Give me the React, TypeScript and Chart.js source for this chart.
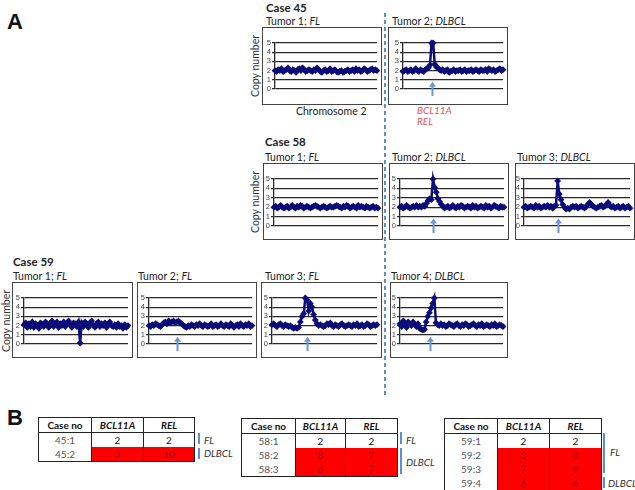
import React, { useEffect, useRef } from "react";
import { Chart, registerables } from "chart.js";
Chart.register(...registerables);

// ---- copy-number series (chromosome 2), one value per probe window ----
const c45t1 = [
  2.0,1.9,2.1,2.0,2.2,1.9,2.0,2.1,2.3,2.0,1.9,2.1,2.0,1.8,2.1,2.2,
  2.0,2.3,2.1,1.9,2.0,2.1,2.0,1.9,2.1,2.0,2.3,2.1,1.9,1.8,2.0,2.1,
  1.9,2.0,2.2,1.9,2.0,2.1,1.9,1.8,1.9,2.0,1.8,1.9,2.0,2.1,1.9,2.0,
  2.1,1.9,2.2,2.0,2.1,1.9,2.0,2.2,2.1,1.9,2.0,2.1,2.2,2.0,2.1,2.0];
const c45t2 = [
  1.9,2.0,2.1,1.9,2.0,2.1,1.9,2.0,2.2,2.0,1.9,2.1,2.0,1.9,2.1,2.2,
  2.3,2.6,5.0,5.0,2.7,2.4,2.3,2.1,2.0,2.1,1.9,2.0,2.1,1.8,1.9,2.0,
  2.1,1.9,2.0,2.0,2.1,1.9,2.0,2.1,1.9,2.0,2.0,2.1,1.9,2.0,2.1,2.0,
  1.9,2.1,2.0,2.0,2.1,1.9,2.2,2.1,2.0,2.1,1.9,2.0,2.1,2.2,2.0,2.1];
const c58t1 = [
  2.0,2.1,1.9,2.0,2.2,2.0,1.9,2.0,2.1,1.9,2.0,2.2,2.0,1.9,2.1,2.0,
  2.2,2.1,1.9,2.0,2.1,2.0,1.9,2.0,2.1,2.2,2.1,2.0,1.9,2.0,2.1,2.0,
  1.9,2.0,2.1,2.0,2.0,2.1,2.2,2.1,2.0,1.9,2.1,2.0,2.2,2.1,1.9,2.0,
  2.1,2.0,1.9,2.2,2.0,2.1,2.0,1.9,2.1,2.0,1.9,2.0,2.1,1.9,2.0,1.9];
const c58t2 = [
  2.0,2.1,1.9,2.0,2.2,2.0,1.9,2.0,2.1,2.0,2.2,2.0,2.1,2.0,2.2,2.1,
  2.4,2.7,2.9,2.8,5.0,4.1,3.6,2.9,2.6,2.3,2.1,1.9,2.0,2.1,1.9,2.0,
  2.2,2.0,1.9,2.1,2.0,2.2,2.1,1.9,2.0,2.1,2.0,1.9,2.2,2.0,2.1,1.9,
  2.0,2.1,2.0,1.9,2.2,2.0,2.1,1.9,2.0,2.2,2.1,2.0,1.9,2.1,2.0,2.0];
const c58t3 = [
  2.0,2.1,1.9,2.0,2.1,2.0,1.9,2.2,2.0,2.1,1.9,2.0,2.1,2.0,2.2,2.0,
  2.1,1.9,2.1,2.2,4.8,3.4,2.8,2.3,2.0,1.8,1.9,1.8,2.0,2.1,2.0,2.1,
  1.9,2.0,2.1,2.0,1.9,2.1,2.3,2.5,2.3,2.1,2.0,1.9,2.0,2.1,2.2,2.0,
  2.1,2.3,2.5,2.2,2.0,2.1,1.9,2.0,2.1,1.9,2.0,2.1,1.9,2.0,2.1,1.9];
const c59t1 = [
  2.1,2.3,1.8,2.2,1.9,2.4,1.8,2.2,2.0,1.7,2.3,2.1,1.9,2.4,2.2,1.8,
  2.3,2.5,1.9,2.2,2.4,1.8,2.2,2.0,2.4,1.9,2.2,2.5,2.1,1.8,2.3,2.2,
  1.9,2.4,0.1,2.3,1.9,2.4,2.2,1.8,2.3,2.5,2.0,1.8,2.2,2.4,1.9,2.2,
  2.0,2.3,1.8,2.2,2.4,2.0,1.9,2.1,1.8,2.2,1.9,2.0,1.7,2.1,1.8,2.0];
const c59t2 = [
  2.0,1.9,2.1,2.0,2.2,2.1,2.0,1.9,2.1,2.3,2.4,2.2,2.5,2.3,2.4,2.5,
  2.3,2.4,2.5,2.3,2.2,2.0,1.9,1.8,2.0,1.9,2.1,2.0,1.9,2.1,2.0,2.2,
  2.0,1.9,2.1,2.0,1.9,2.0,2.2,1.9,2.0,2.1,1.9,2.0,2.2,2.0,1.9,2.1,
  2.0,1.9,2.2,2.0,1.8,2.0,2.1,1.9,2.2,2.0,1.9,2.1,2.0,2.2,1.9,2.0];
const c59t3 = [
  2.1,2.2,2.0,1.9,2.1,2.2,2.0,1.9,2.1,2.0,1.9,2.0,1.8,1.7,1.8,1.7,
  1.8,2.4,3.0,3.3,5.0,4.8,3.6,4.4,4.0,3.2,2.6,2.2,2.0,2.1,2.0,1.9,
  2.0,2.2,2.1,2.3,2.0,1.9,2.1,2.0,1.9,2.1,2.2,2.0,1.9,2.0,2.1,2.0,
  1.9,2.1,2.0,2.2,1.9,2.0,2.1,1.9,2.0,2.2,2.1,1.9,2.0,2.1,2.0,2.1];
const c59t4 = [
  2.2,1.9,2.5,2.3,1.8,2.4,2.2,2.0,2.4,2.1,1.9,2.2,1.7,1.6,1.5,1.6,
  2.4,3.0,3.4,3.9,4.4,5.0,2.3,2.1,2.0,2.2,2.0,2.1,1.9,2.0,2.2,2.1,
  2.0,1.9,2.1,2.2,2.0,1.9,2.1,2.0,2.2,2.1,1.9,2.0,2.1,2.2,2.0,1.9,
  2.1,2.0,2.2,1.9,2.0,2.1,2.0,1.9,2.1,2.0,2.2,1.9,2.0,2.1,2.0,1.9];

// arrow positions (probe index of the BCL11A/REL locus)
const arrow45t2 = 18.5;
const arrow58t2 = 20;
const arrow58t3 = 20;
const arrow59t2 = 17;
const arrow59t3 = 21;
const arrow59t4 = 18.5;

const yTicks = [0, 1, 2, 3, 4, 5];

// ---- tables ----
const t45Cases = ["45:1", "45:2"];
const t45Bcl = [2, 3];
const t45Rel = [2, 10];
const t45Gain = [false, true];

const t58Cases = ["58:1", "58:2", "58:3"];
const t58Bcl = [2, 8, 6];
const t58Rel = [2, 7, 7];
const t58Gain = [false, true, true];

const t59Cases = ["59:1", "59:2", "59:3", "59:4"];
const t59Bcl = [2, 3, 7, 6];
const t59Rel = [2, 3, 9, 6];
const t59Gain = [false, true, true, true];

const NAVY = "#0c0c78";
const ARROW = "#6a97d2";
const BLUE = "#5b8fcf";
const FONT = "Lato, 'Open Sans', sans-serif";

type PanelProps = {
  left: number; top: number; width: number; height: number;
  data: number[]; axisW: number; padTop: number; padBottom: number;
  arrowAt?: number;
};

function Panel(p: PanelProps) {
  const ref = useRef<HTMLCanvasElement>(null);
  useEffect(() => {
    const arrowPlugin = {
      id: "arrowMark",
      afterDatasetsDraw(chart: any) {
        if (p.arrowAt == null) return;
        const { ctx } = chart;
        const xs = chart.scales.x, ys = chart.scales.y;
        const px = Math.round(xs.getPixelForValue(p.arrowAt)) + 0.5;
        const yTip = ys.getPixelForValue(0.8);
        const yTail = ys.getPixelForValue(0) + 7;
        ctx.save();
        ctx.strokeStyle = ARROW;
        ctx.fillStyle = ARROW;
        ctx.lineWidth = 2;
        ctx.beginPath();
        ctx.moveTo(px, yTail);
        ctx.lineTo(px, yTip + 3);
        ctx.stroke();
        ctx.beginPath();
        ctx.moveTo(px, yTip);
        ctx.lineTo(px - 3.5, yTip + 5);
        ctx.lineTo(px + 3.5, yTip + 5);
        ctx.closePath();
        ctx.fill();
        ctx.restore();
      },
    };
    const chart = new Chart(ref.current as HTMLCanvasElement, {
      type: "line",
      data: {
        datasets: [
          {
            data: p.data.map((v, i) => ({ x: i, y: v })),
            borderColor: NAVY,
            backgroundColor: NAVY,
            borderWidth: 2.5,
            pointStyle: "rectRot",
            pointRadius: 3.4,
            pointBorderWidth: 0,
            tension: 0,
            clip: false as any,
          },
        ],
      },
      options: {
        animation: false,
        responsive: false,
        events: [],
        layout: { padding: { top: p.padTop, bottom: p.padBottom, right: 2, left: 0 } },
        plugins: { legend: { display: false }, tooltip: { enabled: false } },
        scales: {
          x: { type: "linear", min: 0, max: p.data.length - 1, display: false },
          y: {
            min: 0,
            max: 5,
            afterFit: (s: any) => { s.width = p.axisW; },
            afterBuildTicks: (s: any) => { s.ticks = yTicks.map((v) => ({ value: v })); },
            ticks: {
              font: { size: 7.5, family: "'Liberation Sans', Arial" }, color: "#444", padding: 1,
              autoSkip: false, stepSize: 1,
            },
            grid: { color: "#2a2a2a", lineWidth: 1.3, tickLength: 3 },
            border: { color: "#2a2a2a", width: 1.3 },
          },
        },
      },
      plugins: [arrowPlugin],
    } as any);
    return () => chart.destroy();
  }, []);
  return (
    <div
      style={{
        position: "absolute", left: p.left, top: p.top, width: p.width, height: p.height,
        border: "1px solid #444", boxSizing: "border-box", background: "#fff",
      }}
    >
      <canvas ref={ref} width={p.width - 2} height={p.height - 2} style={{ display: "block" }} />
    </div>
  );
}

function Txt(props: { x: number; y: number; size?: number; bold?: boolean; color?: string; children: any; italic?: boolean }) {
  const s = props.size || 10.5;
  return (
    <div
      style={{
        position: "absolute", left: props.x, top: props.y - s / 2 - 1, fontSize: s, lineHeight: `${s + 2}px`,
        fontWeight: props.bold ? 700 : 400, color: props.color || "#222", whiteSpace: "nowrap",
        fontStyle: props.italic ? "italic" : "normal", fontFamily: FONT,
      }}
    >
      {props.children}
    </div>
  );
}

function VLabel(props: { cx: number; cy: number; text: string }) {
  return (
    <div
      style={{
        position: "absolute", left: props.cx - 40, top: props.cy - 7, width: 80, height: 14,
        textAlign: "center", fontSize: 10.5, lineHeight: "14px", color: "#333",
        transform: "rotate(-90deg)", fontFamily: FONT, whiteSpace: "nowrap",
      }}
    >
      {props.text}
    </div>
  );
}

function CopyTable(props: {
  left: number; top: number; cols: number[]; cases: string[]; bcl: number[]; rel: number[]; gain: boolean[];
}) {
  const { cols } = props;
  const line = "1px solid #222";
  const cell = (w: number, content: any, style: any, key: string) => (
    <div key={key} style={{ width: w, boxSizing: "border-box", textAlign: "center", ...style }}>{content}</div>
  );
  return (
    <div
      style={{
        position: "absolute", left: props.left, top: props.top, border: line, boxSizing: "content-box",
        fontSize: 10, fontFamily: FONT, background: "#fff",
      }}
    >
      <div style={{ display: "flex", height: 15, borderBottom: line, boxSizing: "border-box", fontWeight: 700, lineHeight: "14px", color: "#111" }}>
        {cell(cols[0], "Case no", { borderRight: line }, "h0")}
        {cell(cols[1], <i>BCL11A</i>, { borderRight: line }, "h1")}
        {cell(cols[2], <i>REL</i>, {}, "h2")}
      </div>
      {props.cases.map((c, i) => {
        const g = props.gain[i];
        const bg = g ? "#ff0000" : "#fff";
        const fg = g ? "#a80000" : "#111";
        return (
          <div key={i} style={{ display: "flex", height: 14, lineHeight: "14px" }}>
            {cell(cols[0], c, { borderRight: line, color: "#555" }, "a")}
            {cell(cols[1], props.bcl[i], { borderRight: line, background: bg, color: fg }, "b")}
            {cell(cols[2], props.rel[i], { background: bg, color: fg }, "c")}
          </div>
        );
      })}
    </div>
  );
}

function Bar(props: { x: number; y1: number; y2: number }) {
  return <div style={{ position: "absolute", left: props.x, top: props.y1, width: 2, height: props.y2 - props.y1, background: BLUE }} />;
}

export default function App() {
  return (
    <div
      style={{
        position: "absolute", left: 0, top: 0, width: 635, height: 490, background: "#fff",
        overflow: "hidden", fontFamily: FONT,
      }}
    >
      {/* panel letters */}
      <div style={{ position: "absolute", left: 7, top: 9, fontSize: 22, fontWeight: 700, fontFamily: "'Liberation Sans', Arial", color: "#111" }}>A</div>
      <div style={{ position: "absolute", left: 7, top: 405, fontSize: 22, fontWeight: 700, fontFamily: "'Liberation Sans', Arial", color: "#111" }}>B</div>

      {/* dashed divider */}
      <div
        style={{
          position: "absolute", left: 384, top: 13, width: 2, height: 385,
          background: `repeating-linear-gradient(to bottom, ${BLUE} 0px, ${BLUE} 4px, transparent 4px, transparent 7px)`,
        }}
      />

      {/* Case 45 */}
      <Txt x={266} y={8} size={11.5} bold>Case 45</Txt>
      <Txt x={266} y={21}>Tumor 1; <i>FL</i></Txt>
      <Txt x={392} y={21}>Tumor 2; <i>DLBCL</i></Txt>
      <VLabel cx={255} cy={66} text="Copy number" />
      <Panel left={262} top={27} width={120} height={78} data={c45t1} axisW={12} padTop={15} padBottom={15} />
      <Panel left={388} top={27} width={120} height={78} data={c45t2} axisW={14} padTop={15} padBottom={15} arrowAt={arrow45t2} />
      <Txt x={296} y={111}>Chromosome 2</Txt>
      <Txt x={417} y={110} size={10} italic color="#e4574f">BCL11A</Txt>
      <Txt x={417} y={121} size={10} italic color="#e4574f">REL</Txt>

      {/* Case 58 */}
      <Txt x={265} y={142} size={11.5} bold>Case 58</Txt>
      <Txt x={265} y={157}>Tumor 1; <i>FL</i></Txt>
      <Txt x={392} y={157}>Tumor 2; <i>DLBCL</i></Txt>
      <Txt x={517} y={157}>Tumor 3; <i>DLBCL</i></Txt>
      <VLabel cx={255} cy={202} text="Copy number" />
      <Panel left={263} top={163} width={120} height={77} data={c58t1} axisW={10} padTop={15} padBottom={13} />
      <Panel left={389} top={163} width={120} height={77} data={c58t2} axisW={10} padTop={15} padBottom={13} arrowAt={arrow58t2} />
      <Panel left={515} top={163} width={120} height={77} data={c58t3} axisW={8} padTop={15} padBottom={13} arrowAt={arrow58t3} />

      {/* Case 59 */}
      <Txt x={13} y={262} size={11.5} bold>Case 59</Txt>
      <Txt x={13} y={276}>Tumor 1; <i>FL</i></Txt>
      <Txt x={138} y={276}>Tumor 2; <i>FL</i></Txt>
      <Txt x={265} y={276}>Tumor 3; <i>FL</i></Txt>
      <Txt x={391} y={276}>Tumor 4; <i>DLBCL</i></Txt>
      <VLabel cx={6} cy={321} text="Copy number" />
      <Panel left={12} top={282} width={121} height={76} data={c59t1} axisW={11} padTop={15} padBottom={13} />
      <Panel left={137} top={282} width={120} height={76} data={c59t2} axisW={11} padTop={15} padBottom={13} arrowAt={arrow59t2} />
      <Panel left={261} top={282} width={121} height={76} data={c59t3} axisW={10} padTop={15} padBottom={13} arrowAt={arrow59t3} />
      <Panel left={390} top={282} width={118} height={76} data={c59t4} axisW={9} padTop={15} padBottom={13} arrowAt={arrow59t4} />

      {/* Tables */}
      <CopyTable left={38} top={417} cols={[53, 52, 50]} cases={t45Cases} bcl={t45Bcl} rel={t45Rel} gain={t45Gain} />
      <Bar x={198} y1={433} y2={444} />
      <Txt x={204} y={440} size={10} italic color="#333">FL</Txt>
      <Bar x={198} y1={448} y2={459} />
      <Txt x={204} y={453} size={10} italic color="#333">DLBCL</Txt>

      <CopyTable left={241} top={418} cols={[54, 50, 51]} cases={t58Cases} bcl={t58Bcl} rel={t58Rel} gain={t58Gain} />
      <Bar x={400} y1={432} y2={444} />
      <Txt x={406} y={440} size={10} italic color="#333">FL</Txt>
      <Bar x={400} y1={448} y2={474} />
      <Txt x={406} y={462} size={10} italic color="#333">DLBCL</Txt>

      <CopyTable left={444} top={418} cols={[53, 52, 51]} cases={t59Cases} bcl={t59Bcl} rel={t59Rel} gain={t59Gain} />
      <Bar x={603} y1={433} y2={473} />
      <Txt x={610} y={452} size={10} italic color="#333">FL</Txt>
      <Bar x={603} y1={477} y2={488} />
      <Txt x={608} y={483} size={10} italic color="#333">DLBCL</Txt>
    </div>
  );
}
